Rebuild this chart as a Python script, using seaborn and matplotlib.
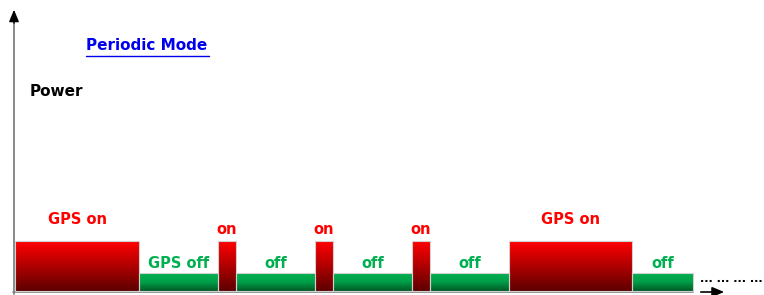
import numpy as np
import pandas as pd
import matplotlib
matplotlib.use("Agg")
import matplotlib.pyplot as plt
import seaborn as sns
from matplotlib.colors import LinearSegmentedColormap

# ---- data ----
states = ["GPS on", "GPS off", "on", "off", "on", "off", "on", "off", "GPS on", "off"]
durations = [124, 79, 18, 79, 18, 79, 18, 79, 123, 61]
power_on = 1.0
power_off = 0.36
title_text = "Periodic Mode"
ylabel_text = "Power"

sns.set_theme(style="white")
plt.rcParams["font.family"] = ["DejaVu Sans"]

edges = [0.0] + [float(v) for v in np.cumsum(durations)]
mids = [(a + b) / 2 for a, b in zip(edges[:-1], edges[1:])]
is_on = ["on" in s and "off" not in s for s in states]
power = [power_on if on else power_off for on in is_on]
df = pd.DataFrame({"t": mids, "p": power, "state": states})

fig = plt.figure(figsize=(7.64, 2.95), dpi=100)
ax = fig.add_axes([0, 0, 1, 1])
sns.histplot(data=df, x="t", weights="p", bins=edges, ax=ax,
             color="white", edgecolor="#d0d0d0", linewidth=0.8, alpha=1, legend=False)

red_cmap = LinearSegmentedColormap.from_list("r", ["#5e0000", "#b00000", "#ff0000"])
green_cmap = LinearSegmentedColormap.from_list("g", ["#005a28", "#00a048", "#00b050"])
grad = np.linspace(0, 1, 64).reshape(-1, 1)
for patch, on in zip(ax.patches, is_on):
    x0 = patch.get_x(); w = patch.get_width(); h = patch.get_height()
    im = ax.imshow(grad, cmap=red_cmap if on else green_cmap, origin="lower",
                   extent=(x0 + 0.6, x0 + w - 0.6, 0, h), aspect="auto", zorder=2)
    im.set_clip_path(patch)
    patch.set_zorder(3)
    patch.set_facecolor("none")
ax.set_xlim(-15, 749)
ax.set_ylim(-0.08, 5.82)
ax.axis("off")

# labels above bars
for m, p, s, on in zip(mids, power, states, is_on):
    if s == "GPS on":
        dy = 0.42
    elif on:
        dy = 0.24
    else:
        dy = 0.18
    ax.text(m, p + dy, s, ha="center", va="center", fontsize=10.5, fontweight="bold",
            color="#ff0000" if on else "#00b050", zorder=5)

# axes arrows
ax.plot([-1, -1], [-0.06, 5.4], color="#808080", lw=1.3, zorder=1)
ax.annotate("", xy=(-1, 5.68), xytext=(-1, 5.3),
            arrowprops=dict(arrowstyle="-|>,head_length=0.6,head_width=0.25", color="black", lw=1.0),
            zorder=1)
ax.plot([-2, edges[-1]], [-0.02, -0.02], color="#808080", lw=1.2, zorder=1)
ax.annotate("", xy=(712, -0.02), xytext=(683, -0.02),
            arrowprops=dict(arrowstyle="-|>,head_length=0.6,head_width=0.25", color="black", lw=1.2))
ax.text(685, power_off * 0.65, "... ... ... ...", ha="left", va="center", fontsize=8,
        fontweight="bold", color="black")

# title and y label
ax.text(132, 4.90, title_text, ha="center", va="center", fontsize=11, fontweight="bold",
        color="#0000ee")
ax.plot([71, 194], [4.70, 4.70], color="#0000ee", lw=1.0)
ax.text(15, 4.00, ylabel_text, ha="left", va="center", fontsize=11, fontweight="bold", color="black")

fig.savefig("out.png", dpi=100)
